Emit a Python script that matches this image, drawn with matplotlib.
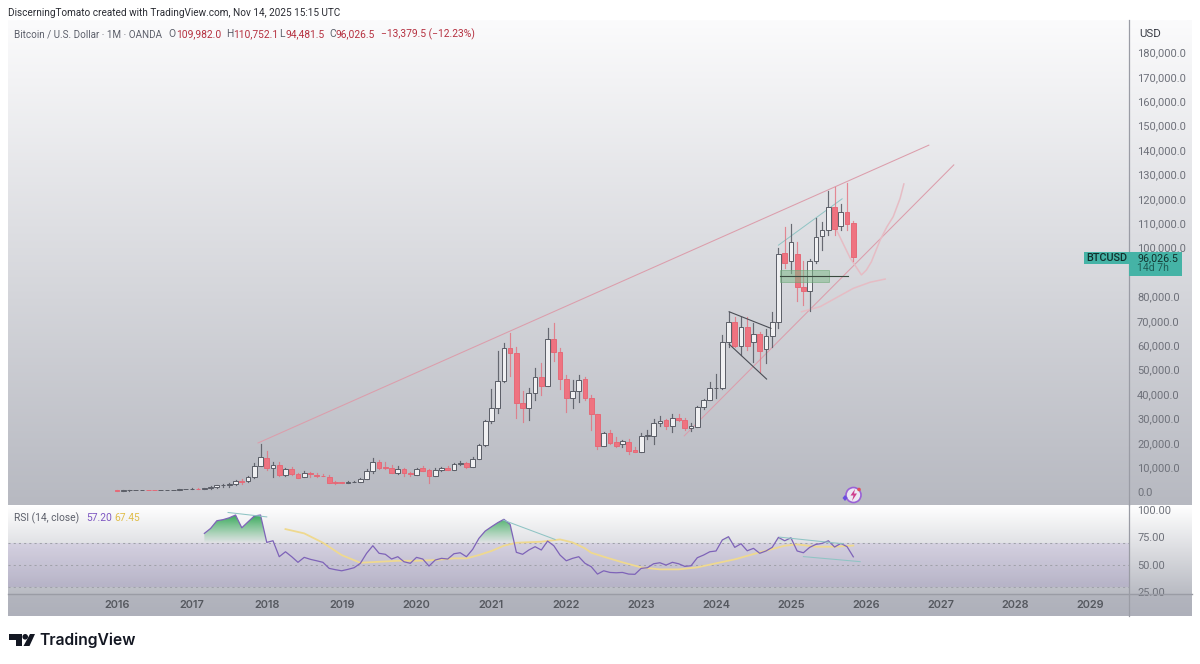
"""BTCUSD monthly chart with RSI pane, TradingView snapshot style."""

import matplotlib

matplotlib.use("Agg")
import matplotlib.pyplot as plt
import numpy as np
from matplotlib.patches import Circle, Polygon, Rectangle

# month index 0 = Jan 2016
OPENS = [430, 370, 415, 450, 530, 670, 620, 575, 610, 700, 740, 960,
         960, 1190, 1080, 1350, 2000, 2500, 2870, 3000, 4400, 4200, 6100, 10500,
         13600, 9500, 10900, 6800, 9100, 7000, 6100, 7500, 6700, 6500, 6100, 3700,
         3700, 3500, 3800, 3800, 5000, 8400, 12000, 9900, 9500, 7700, 9100, 7500,
         6800, 9500, 8800, 6500, 8800, 9500, 8800, 11200, 11560, 10170, 13200, 19060,
         28800, 34400, 45400, 58800, 56700, 36400, 34400, 40300, 46800, 43200, 62400, 57100,
         46200, 38200, 41300, 46000, 38500, 31600, 18650, 23900, 20200, 19300, 20200, 17000,
         16300, 22800, 22900, 28000, 29300, 26800, 30300, 29300, 25900, 26600, 34800, 37700,
         42300, 42400, 61400, 69600, 59800, 67500, 61400, 64600, 58300, 63700, 69600, 97700,
         94600, 97400, 84000, 82300, 94500, 104900, 107200, 116500, 109000, 114700, 110000]
CLOSES = [370, 415, 450, 530, 670, 620, 575, 610, 700, 740, 960, 1000,
          1190, 1080, 1350, 2000, 2500, 2870, 3000, 4400, 3900, 6100, 10500, 14000,
          9500, 10900, 6800, 9100, 7000, 5700, 7500, 7000, 6500, 6300, 3600, 3500,
          3500, 3800, 4100, 5000, 8400, 12000, 9500, 9600, 7700, 9200, 7500, 7100,
          9200, 8600, 6500, 8800, 9500, 8900, 11200, 11700, 10170, 13200, 19060, 28800,
          34400, 45400, 58800, 56700, 36400, 34400, 40300, 46800, 43200, 62400, 57100, 46000,
          38200, 41300, 45700, 38200, 31600, 18650, 23900, 20000, 18800, 20600, 16700, 16300,
          22800, 23300, 28200, 29000, 26800, 30300, 29300, 25900, 26800, 34800, 37700, 42300,
          42600, 61400, 69600, 59600, 67500, 59800, 64600, 57500, 63700, 69600, 97400, 93800,
          102200, 84000, 82300, 94500, 104500, 107200, 116500, 107700, 114700, 109500, 96026]
HIGHS = [460, 440, 460, 540, 740, 780, 700, 630, 720, 760, 980, 1150,
         1290, 1290, 1390, 2100, 2800, 3000, 3300, 4800, 4980, 6500, 11500, 19500,
         16700, 12000, 11900, 9800, 10000, 7700, 8500, 7900, 7400, 7200, 6600, 4300,
         4100, 4200, 4300, 5600, 9100, 13600, 13100, 12300, 10900, 10400, 9500, 7900,
         9600, 10500, 9200, 9500, 10000, 10400, 11500, 12500, 12100, 14000, 19500, 29300,
         41900, 57600, 60800, 64900, 59400, 41300, 42400, 50500, 52800, 66900, 69000, 59000,
         47900, 45700, 47800, 47100, 39600, 31900, 24300, 25200, 22500, 21000, 21500, 18400,
         23900, 25200, 29600, 31000, 29800, 31600, 31800, 30100, 28000, 35000, 38000, 44700,
         48000, 64200, 73700, 71700, 71700, 71700, 69200, 65500, 66500, 73700, 99700, 108300,
         109500, 102400, 94600, 95200, 112000, 110600, 123300, 124700, 117900, 126300, 110752]
LOWS = [350, 360, 400, 440, 510, 630, 560, 480, 590, 690, 700, 880,
        890, 910, 900, 1200, 1400, 1850, 1830, 2700, 2950, 4100, 5500, 10400,
        9000, 6100, 6500, 6500, 6600, 5700, 6000, 6000, 6100, 6200, 3600, 3200,
        3400, 3400, 3800, 3800, 5000, 7500, 9100, 9300, 7700, 7300, 6500, 6500,
        6800, 8500, 3600, 6300, 8600, 8900, 8900, 11000, 9800, 10100, 13200, 18700,
        28100, 32300, 45000, 47400, 30000, 28600, 29300, 37500, 39600, 43200, 53600, 42000,
        32700, 34400, 36800, 37400, 25200, 17600, 18800, 19600, 18200, 18200, 15500, 16300,
        16300, 21500, 19500, 26800, 25800, 24500, 29000, 25400, 24900, 26500, 34000, 37500,
        38500, 42000, 59400, 59300, 56000, 58000, 53200, 49100, 52500, 59400, 66900, 91500,
        89500, 78200, 76500, 74100, 93600, 99000, 105200, 105200, 107200, 107200, 94481]

YEARS = list(range(2016, 2030))
# 90,000.0 sits under the price tag in the picture, so it has no label
PRICE_TICKS = [value for value in range(0, 180001, 10000) if value != 90000]

# RSI read per month, month index RSI_START onwards
RSI_START = 14
RSI = [78.5, 83, 90, 91, 92.7, 95.2, 83.6, 89, 94.3, 95.2,
       70.3, 71.8, 57.3, 61.8, 57.3, 52.2, 56.7, 54.9, 53.6, 52.2, 46.7, 45.5,
       44.5, 45.8, 47.3, 51.3, 60.4, 67.3, 60.4, 59.5, 55.2, 57.3, 52.7, 51.3,
       56.7, 55.2, 48.8, 54.3, 55.8, 55.2, 60, 60.9, 57.3, 64, 74, 80.6,
       84.5, 88.2, 91.3, 86.7, 61.3, 59.5, 63.4, 66.4, 63.4, 71.5, 67.3, 58.8,
       53.6, 55.8, 57.3, 51.3, 48.2, 41.5, 44.5, 43, 42.7, 43, 41.5, 41.3,
       46.7, 47.3, 50.9, 51.8, 49.7, 52.2, 50.9, 48.5, 49.1, 56.4, 58.8, 61.8,
       62.5, 72.5, 75.5, 65.8, 69.1, 62.7, 64.9, 60.4, 62.5, 65.8, 74.9, 71.8,
       74.5, 62.5, 60.9, 65.8, 68.5, 69.4, 71.8, 66.1, 69.4, 66.4, 57.2]
RSI_MA_MONTHS = [27, 30, 33, 36, 39, 42, 45, 48, 51, 54, 56, 58, 60, 62, 64, 68, 71, 73, 75, 76,
                 78, 81, 84, 87, 90, 93, 96, 99, 102, 105, 107, 109, 112, 115, 118]
RSI_MA = [82.4, 78.5, 70, 58.8, 51.8, 52.7, 53.6, 53.6, 54.3, 55.8, 55.8, 58.8, 62.5, 67.3, 70, 70.9, 73,
          70.3, 64.9, 60.9, 57.3, 52.2, 47.6, 45.8, 45.8, 47.6, 51.3, 54.9, 59.7, 64.3, 67.3, 68.5,
          66.4, 66.4, 67.45]

# drawings on the price pane, (month index, price)
UPPER_TREND = ([22.6, 130.1], [19900, 142000])
LOWER_TREND = ([90.9, 134.1], [22800, 133900])
FORECAST = ([115.3, 117.5, 119.3, 120.1, 120.9, 122.3, 123.4, 124.4, 125.5, 126.1],
            [107200, 95700, 88800, 90800, 94200, 103100, 108600, 112700, 120200, 126100])
LOWER_CURVE = ([109.7, 112.7, 118, 120.7, 123.1], [73700, 75800, 83300, 85800, 87100])
TEAL_TREND = ([106, 116.2], [101000, 120000])
TRI_TOP = ([98.1, 104.8], [73700, 66900])
TRI_BOTTOM = ([98.1, 104.1], [60400, 46100])
ZONE = (106.25, 114.1, 86000, 90700)
ZONE_LINE = ([106.25, 117.1], [88500, 88500])

RSI_DIV_LINES = [([17.8, 24], [97.5, 93.5]),
                 ([61.9, 70.2], [90.6, 73]),
                 ([106.2, 116.4], [75.1, 69]),
                 ([110, 119.1], [57.4, 52.8])]

UP_EDGE = "#5a5d66"
DOWN_FILL = "#ef7380"
DOWN_EDGE = "#e56a78"
PINK = "#dc9dab"
PALE_PINK = "#e6bcc4"
TEAL = "#8fc4c4"
TEXT = "#5d606b"
SCALE_TEXT = "#6e717a"
AXIS_LINE = "#9a9ca5"

FIG_W, FIG_H = 1200, 664
LEFT, AXIS_X, RIGHT = 8, 1129, 1192
MAIN_TOP, MAIN_BOTTOM = 20, 505
RSI_BOTTOM, TIME_BOTTOM = 594, 616


def px_axes(fig, x0, y0, x1, y1, **kwargs):
    """Axes from pixel corners, y counted from the top of the picture."""
    return fig.add_axes([x0 / FIG_W, 1 - y1 / FIG_H, (x1 - x0) / FIG_W, (y1 - y0) / FIG_H], **kwargs)


def month_to_px(month):
    return 117 + 6.24 * month


def px_to_month(px):
    return (px - 117) / 6.24


def gradient_background(fig, x0, y0, x1, y1, top, bottom):
    axis = px_axes(fig, x0, y0, x1, y1, zorder=0)
    axis.axis("off")
    colors = np.linspace(matplotlib.colors.to_rgb(top), matplotlib.colors.to_rgb(bottom), 256)[:, None, :]
    axis.imshow(colors, aspect="auto")


def draw_candles(axis):
    for month, (o, h, l, c) in enumerate(zip(OPENS, HIGHS, LOWS, CLOSES)):
        up = c >= o
        edge = UP_EDGE if up else DOWN_EDGE
        fill = "#f0f0f2" if up else DOWN_FILL
        axis.plot([month, month], [l, h], color=edge, linewidth=0.85, alpha=0.9 if up else 0.75, zorder=3)
        axis.add_patch(Rectangle((month - 0.38, min(o, c)), 0.76, abs(c - o), facecolor=fill,
                                 edgecolor=edge, linewidth=0.7, zorder=4))


def draw_price_pane(fig):
    axis = px_axes(fig, LEFT, MAIN_TOP, AXIS_X, MAIN_BOTTOM, zorder=2)
    axis.patch.set_alpha(0)
    axis.set_xlim(px_to_month(LEFT), px_to_month(AXIS_X))
    axis.set_ylim((491.5 - MAIN_BOTTOM) / 24.39 * 1e4, (491.5 - MAIN_TOP) / 24.39 * 1e4)

    axis.plot(*UPPER_TREND, color=PINK, linewidth=0.75, zorder=2)
    axis.plot(*LOWER_TREND, color=PINK, linewidth=0.75, zorder=2)
    axis.plot(*FORECAST, color=PALE_PINK, linewidth=1.1, zorder=2)
    axis.plot(*LOWER_CURVE, color=PALE_PINK, linewidth=1.1, zorder=2)
    axis.plot(*TEAL_TREND, color=TEAL, linewidth=0.7, zorder=2)
    draw_candles(axis)
    axis.plot(*TRI_TOP, color="#4a4d55", linewidth=0.8, zorder=5)
    axis.plot(*TRI_BOTTOM, color="#4a4d55", linewidth=0.8, zorder=5)
    axis.add_patch(Rectangle((ZONE[0], ZONE[2]), ZONE[1] - ZONE[0], ZONE[3] - ZONE[2], facecolor="#7fb98a",
                             edgecolor="#6aa876", alpha=0.55, linewidth=0.7, zorder=5))
    axis.plot(*ZONE_LINE, color="#3a4a3f", linewidth=0.8, zorder=6)

    axis.set_xticks([])
    axis.yaxis.tick_right()
    axis.set_yticks(PRICE_TICKS, [f"{value:,.1f}" for value in PRICE_TICKS], family="Roboto")
    axis.tick_params(axis="y", length=0, pad=5.8, labelsize=8.05, labelcolor=SCALE_TEXT)
    for name in ("top", "left", "bottom"):
        axis.spines[name].set_visible(False)
    axis.spines["right"].set_color(AXIS_LINE)
    axis.spines["right"].set_linewidth(0.9)
    return axis


def draw_rsi_pane(fig):
    axis = px_axes(fig, LEFT, MAIN_BOTTOM + 1, AXIS_X, RSI_BOTTOM, zorder=2)
    axis.patch.set_alpha(0)

    months = np.arange(RSI_START, RSI_START + len(RSI))
    values = np.array(RSI)
    axis.axhspan(30, 70, color="#7e57c2", alpha=0.12, linewidth=0, zorder=1)
    for level in (70, 50, 30):
        axis.axhline(level, color="#a0a2aa", linewidth=0.75, linestyle=(0, (2, 3)), zorder=2)

    # green fade above the 70 line, clipped to the region under the RSI line
    shade = np.ones((128, 1, 4))
    shade[:, :, :3] = matplotlib.colors.to_rgb("#38a85a")
    shade[:, 0, 3] = np.linspace(0.95, 0, 128)
    image = axis.imshow(shade, extent=(months[0], months[-1], 70, 94), aspect="auto", zorder=2)
    fine_x = np.linspace(months[0], months[-1], 1500)
    clip_y = np.maximum(np.interp(fine_x, months, values), 70)
    vertices = np.column_stack([np.r_[fine_x, fine_x[-1], fine_x[0]], np.r_[clip_y, 70, 70]])
    clip = Polygon(vertices, transform=axis.transData, facecolor="none", edgecolor="none")
    axis.add_patch(clip)
    image.set_clip_path(clip)
    axis.set_xlim(px_to_month(LEFT), px_to_month(AXIS_X))
    axis.set_ylim(23.4, 103.4)

    axis.plot(RSI_MA_MONTHS, RSI_MA, color="#efd98f", linewidth=1.3, zorder=3)
    axis.plot(months, values, color="#7e63b8", linewidth=0.9, zorder=4)
    for xs, ys in RSI_DIV_LINES:
        axis.plot(xs, ys, color=TEAL, linewidth=0.75, zorder=5)

    axis.set_xticks([])
    axis.yaxis.tick_right()
    axis.set_yticks([100, 75, 50, 25], ["100.00", "75.00", "50.00", "25.00"], family="Roboto")
    axis.tick_params(axis="y", length=0, pad=5.8, labelsize=7.9, labelcolor=SCALE_TEXT)
    for name in ("top", "left", "bottom", "right"):
        axis.spines[name].set_visible(False)
    return axis


def draw_overlay(fig):
    """Everything placed in picture pixels: header, year labels, price tag, logos."""
    over = fig.add_axes([0, 0, 1, 1], zorder=10)
    over.set_xlim(0, FIG_W)
    over.set_ylim(FIG_H, 0)
    over.axis("off")
    font = dict(family="Roboto", va="center")

    over.plot([AXIS_X, AXIS_X], [MAIN_BOTTOM, TIME_BOTTOM], color=AXIS_LINE, linewidth=0.9)
    over.plot([LEFT, RIGHT], [RSI_BOTTOM, RSI_BOTTOM], color=AXIS_LINE, linewidth=1.0)

    over.text(8, 12.5, "DiscerningTomato created with TradingView.com, Nov 14, 2025 15:15 UTC",
              fontsize=7.2, color="#2a2c33", **font)
    over.text(14, 34, "Bitcoin / U.S. Dollar · 1M · OANDA", fontsize=7.15, color=TEXT, **font)
    pieces = [(168.5, "O", TEXT), (176, "109,982.0", "#b5303f"),
              (226, "H", TEXT), (233, "110,752.1", "#b5303f"), (279, "L", TEXT), (285, "94,481.5", "#b5303f"),
              (329, "C", TEXT), (336, "96,026.5", "#b5303f"), (381, "−13,379.5 (−12.23%)", "#b5303f")]
    for x, label, color in pieces:
        over.text(x, 34, label, fontsize=7.35, color=color, **font)
    over.text(1139, 34, "USD", fontsize=8.2, color="#3a3d45", **font)
    over.text(14, 518, "RSI (14, close)", fontsize=7.4, color=TEXT, **font)
    over.text(86, 518, "57.20", fontsize=7.4, color="#7e57c2", **font)
    over.text(114, 518, "67.45", fontsize=7.4, color="#e0bd4a", **font)

    for year in YEARS:
        px = month_to_px((year - 2016) * 12)
        over.text(px, 605.5, str(year), fontsize=7.9, color="#55585f", ha="center", fontweight="semibold",
                  family="Inter", va="center")

    # price tag
    teal = "#45b3a6"
    over.add_patch(Rectangle((1084, 251.5), 45, 12.5, facecolor=teal, edgecolor="none"))
    over.add_patch(Rectangle((1129, 251.5), 53, 24, facecolor=teal, edgecolor="none"))
    over.text(1106.5, 257.7, "BTCUSD", fontsize=7.8, color="#12302c", ha="center", fontweight="medium", **font)
    over.text(1137, 258, "96,026.5", fontsize=7.7, color="#12302c", **font)
    over.text(1137, 268.3, "14d 7h", fontsize=7.5, color="#1f5c54", **font)

    # badge near the bottom of the price pane
    over.add_patch(Circle((853.5, 495), 7.5, facecolor="#ece7f3", edgecolor="#9a62d6", linewidth=1.2))
    over.add_patch(Polygon([[855, 489], [850.5, 495.5], [853.5, 495.5], [852, 501], [857, 493.5],
                            [854, 493.5]], facecolor="#cf3f8e", edgecolor="none"))
    over.add_patch(Circle((859, 489.5), 1.8, facecolor="#e0505a", edgecolor="none"))
    over.add_patch(Polygon([[845, 495], [847.5, 498], [845, 501], [842.5, 498]], facecolor="#6a4fe0",
                           edgecolor="none"))

    # TradingView logo
    dark = "#131722"
    over.add_patch(Polygon([[9, 634], [21.5, 634], [21.5, 646], [15.5, 646], [15.5, 639.5], [9, 639.5]],
                           facecolor=dark))
    over.add_patch(Circle((25.2, 636.8), 2.8, facecolor=dark, edgecolor="none"))
    over.add_patch(Polygon([[30, 634], [35, 634], [29.5, 646], [23.5, 646]], facecolor=dark))
    over.text(39.5, 640, "TradingView", fontsize=11.3, color=dark, fontweight="semibold", family="Inter",
              va="center")


def main():
    fig = plt.figure(figsize=(FIG_W / 100, FIG_H / 100), dpi=100, facecolor="white")
    gradient_background(fig, LEFT, MAIN_TOP, RIGHT, MAIN_BOTTOM, "#fbfbfc", "#b7b9c1")
    gradient_background(fig, LEFT, MAIN_BOTTOM + 1, RIGHT, RSI_BOTTOM, "#ffffff", "#b9bbc3")
    gradient_background(fig, LEFT, RSI_BOTTOM, RIGHT, TIME_BOTTOM, "#b3b5be", "#aeb0ba")
    draw_price_pane(fig)
    draw_rsi_pane(fig)
    draw_overlay(fig)
    fig.savefig("out.png", dpi=100)
    plt.close(fig)


if __name__ == "__main__":
    main()
